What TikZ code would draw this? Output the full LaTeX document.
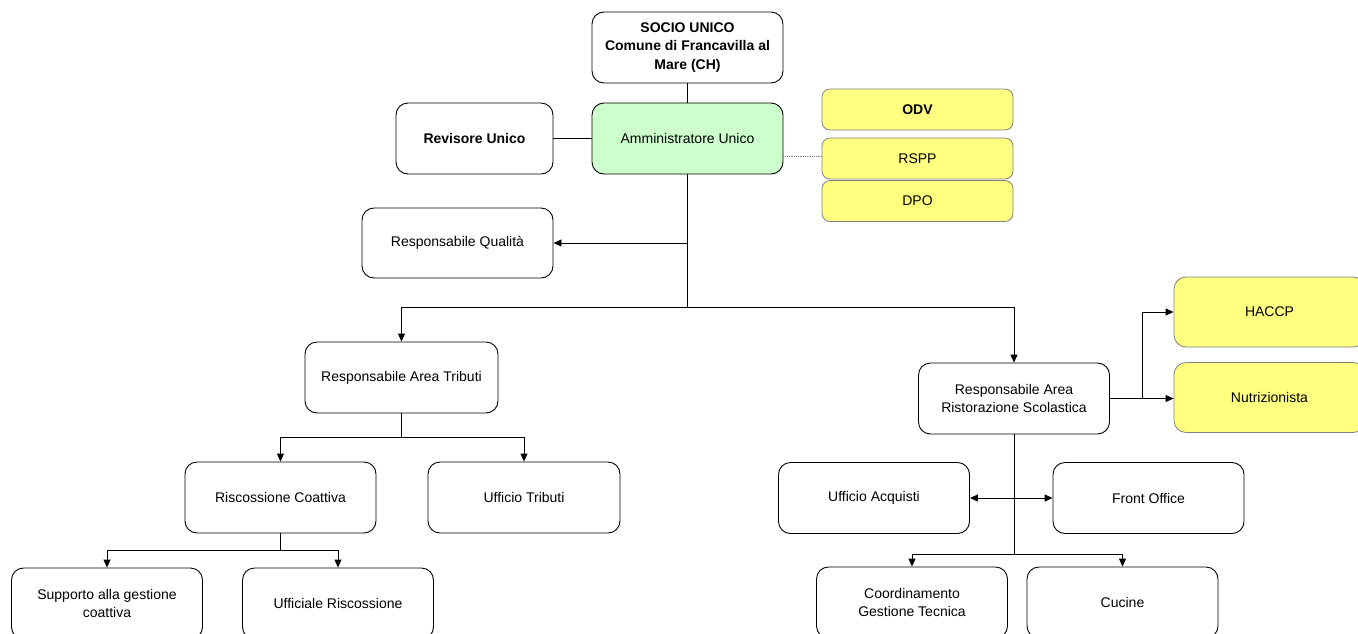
\documentclass[tikz,border=0pt]{standalone}
\usepackage{fontspec}
\setmainfont{Liberation Sans}
\usetikzlibrary{arrows.meta}
\definecolor{boxgreen}{HTML}{CCFFCC}
\definecolor{boxyellow}{HTML}{FFFF80}
\definecolor{edgegray}{HTML}{808080}
\begin{document}
\begin{tikzpicture}[x=1pt,y=-1pt,
  every node/.style={font=\fontsize{14}{18.5}\selectfont},
  orgbox/.style={draw=black, line width=0.9pt, rounded corners=12pt, fill=white,
    minimum width=191pt, minimum height=71pt, align=center, inner sep=2pt},
  greenbox/.style={orgbox, fill=boxgreen},
  yelbox/.style={draw=edgegray, line width=0.8pt, rounded corners=8pt, fill=boxyellow,
    minimum width=191pt, minimum height=41pt, align=center, inner sep=2pt},
  yelbig/.style={yelbox, minimum height=70pt, rounded corners=12pt},
  conn/.style={draw=black, line width=0.9pt},
  arr/.style={conn, -{Triangle[length=8pt,width=7pt]}},
  darr/.style={conn, {Triangle[length=8pt,width=7pt]}-{Triangle[length=8pt,width=7pt]}},
  dotconn/.style={draw=edgegray, line width=0.8pt, densely dotted}
]
\useasboundingbox (0,0) rectangle (1358,633);
\fill[white] (0,0) rectangle (1358,633);

% top level
\node[orgbox] (socio) at (687.5,47.5) {\textbf{SOCIO UNICO}\\\textbf{Comune di Francavilla al}\\\textbf{Mare (CH)}};
\node[greenbox] (amm) at (687.5,138.5) {Amministratore Unico};
\node[orgbox, minimum width=157pt] (rev) at (474.5,138.5) {\textbf{Revisore Unico}};
\node[yelbox] (odv) at (917.5,109.5) {\textbf{ODV}};
\node[yelbox] (rspp) at (917.5,158.5) {RSPP};
\node[yelbox] (dpo) at (917.5,201) {DPO};
\node[orgbox, minimum height=70pt] (qual) at (457.5,243) {Responsabile Qualità};

% second level
\node[orgbox, minimum width=193pt] (trib) at (401.5,377.5) {Responsabile Area Tributi};
\node[orgbox] (rist) at (1014,398.5) {Responsabile Area\\Ristorazione Scolastica};
\node[yelbig] (haccp) at (1269.5,312) {HACCP};
\node[yelbig] (nutr) at (1269.5,397.5) {Nutrizionista};

% tributi branch
\node[orgbox] (risc) at (280.5,497.5) {Riscossione Coattiva};
\node[orgbox, minimum width=192pt] (ufft) at (524,497.5) {Ufficio Tributi};
\node[orgbox] (supp) at (107,603.5) {Supporto alla gestione\\coattiva};
\node[orgbox] (uffr) at (338,603.5) {Ufficiale Riscossione};

% ristorazione branch
\node[orgbox] (acq) at (874,498) {Ufficio Acquisti};
\node[orgbox] (front) at (1148.5,498) {Front Office};
\node[orgbox] (coord) at (912,602.5) {Coordinamento\\Gestione Tecnica};
\node[orgbox] (cuc) at (1122.5,602.5) {Cucine};

% junction coordinates
\coordinate (j1) at (687.5,307);
\coordinate (j2) at (401.5,437);
\coordinate (j3) at (280.5,550);
\coordinate (j4) at (1142,398.5);
\coordinate (j5) at (1014,554);

% connectors
\draw[conn] (socio.south) -- (amm.north);
\draw[conn] (rev.east) -- (amm.west);
\draw[dotconn] (amm.east |- 0,156) -- (rspp.west |- 0,156);
\draw[conn] (amm.south) -- (j1);
\draw[arr] (amm.south |- qual.east) -- (qual.east);
\draw[conn] (trib.north |- j1) -- (rist.north |- j1);
\draw[arr] (trib.north |- j1) -- (trib.north);
\draw[arr] (rist.north |- j1) -- (rist.north);

\draw[conn] (trib.south) -- (j2);
\draw[conn] (risc.north |- j2) -- (ufft.north |- j2);
\draw[arr] (risc.north |- j2) -- (risc.north);
\draw[arr] (ufft.north |- j2) -- (ufft.north);

\draw[conn] (risc.south) -- (j3);
\draw[conn] (supp.north |- j3) -- (uffr.north |- j3);
\draw[arr] (supp.north |- j3) -- (supp.north);
\draw[arr] (uffr.north |- j3) -- (uffr.north);

\draw[conn] (rist.east) -- (j4);
\draw[arr] (j4) |- (haccp.west);
\draw[arr] (j4) -- (nutr.west |- j4);

\draw[conn] (rist.south) -- (j5);
\draw[darr] (acq.east) -- (front.west);
\draw[conn] (coord.north |- j5) -- (cuc.north |- j5);
\draw[arr] (coord.north |- j5) -- (coord.north);
\draw[arr] (cuc.north |- j5) -- (cuc.north);
\end{tikzpicture}
\end{document}
